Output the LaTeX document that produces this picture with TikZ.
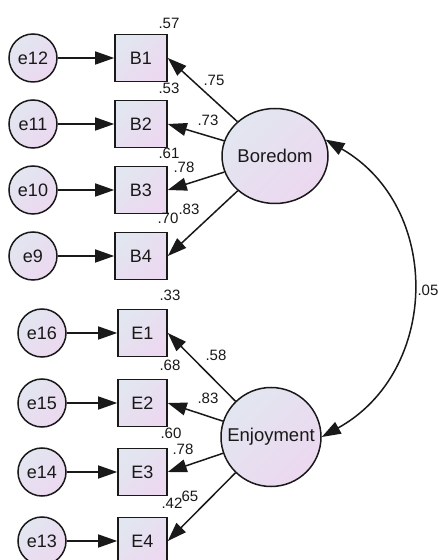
\documentclass[tikz,border=0pt]{standalone}
\usepackage{fontspec}
\setmainfont{Liberation Sans}
\usetikzlibrary{arrows.meta,shapes.geometric}
\definecolor{fillA}{RGB}{226,230,240}
\definecolor{fillB}{RGB}{236,216,240}
\definecolor{ink}{RGB}{25,25,25}
\tikzset{
  semfill/.style={top color=fillA, bottom color=fillB, shading angle=45},
  obsbox/.style={draw=ink, line width=1.6pt, rectangle, semfill, inner sep=0pt,
    minimum height=47pt, font=\fontsize{18}{18}\selectfont, text=ink},
  errc/.style={draw=ink, line width=1.5pt, circle, semfill, inner sep=0pt,
    minimum size=48pt, font=\fontsize{18}{18}\selectfont, text=ink},
  latent/.style={draw=ink, line width=1.5pt, ellipse, semfill, inner sep=0pt},
  latlabel/.style={font=\fontsize{18.5}{18.5}\selectfont, text=ink, inner sep=0pt},
  coef/.style={font=\fontsize{15}{15}\selectfont, text=ink, inner sep=0pt},
  arr/.style={draw=ink, line width=1.5pt, -{Triangle[length=19pt,width=13pt]}},
  darr/.style={draw=ink, line width=1.5pt, {Triangle[length=19pt,width=13pt]}-{Triangle[length=19pt,width=13pt]}},
}
\begin{document}
\begin{tikzpicture}[x=1pt,y=1pt]
\clip (0,0) rectangle (439,560);
\fill[white] (0,0) rectangle (439,560);
% Boredom block
\node[obsbox, minimum width=52pt] (B1) at (141,502) {B1};
\node[obsbox, minimum width=52pt] (B2) at (141,436) {B2};
\node[obsbox, minimum width=52pt] (B3) at (141,370) {B3};
\node[obsbox, minimum width=52pt] (B4) at (141,304) {B4};
\node[errc] (e12) at (33,502) {e12};
\node[errc] (e11) at (33,436) {e11};
\node[errc] (e10) at (33,370) {e10};
\node[errc] (e9) at (33,304) {e9};
\node[latent, minimum width=106pt, minimum height=95pt] (bor) at (275,404) {};
\node[latlabel] (borT) at (bor.center) {Boredom};
% Enjoyment block
\node[obsbox, minimum width=49pt] (E1) at (142.5,227) {E1};
\node[obsbox, minimum width=49pt] (E2) at (142.5,157) {E2};
\node[obsbox, minimum width=49pt] (E3) at (142.5,88) {E3};
\node[obsbox, minimum width=49pt] (E4) at (142.5,19) {E4};
\node[errc] (e16) at (42,227) {e16};
\node[errc] (e15) at (42,157) {e15};
\node[errc] (e14) at (42,88) {e14};
\node[errc] (e13) at (42,19) {e13};
\node[latent, minimum width=100pt, minimum height=99pt] (enj) at (271,123) {};
\node[latlabel] (enjT) at (enj.center) {Enjoyment};
% error arrows
\draw[arr] (e12) -- (B1);
\draw[arr] (e11) -- (B2);
\draw[arr] (e10) -- (B3);
\draw[arr] (e9) -- (B4);
\draw[arr] (e16) -- (E1);
\draw[arr] (e15) -- (E2);
\draw[arr] (e14) -- (E3);
\draw[arr] (e13) -- (E4);
% loadings
\draw[arr] (bor) -- (B1.east);
\draw[arr] (bor) -- (B2.east);
\draw[arr] (bor) -- (B3.east);
\draw[arr] (bor) -- (B4.east);
\draw[arr] (enj) -- (E1.east);
\draw[arr] (enj) -- (E2.east);
\draw[arr] (enj) -- (E3.east);
\draw[arr] (enj) -- (E4.east);
% covariance
\draw[darr] (bor.18) to[out=-30,in=29,looseness=1.16] (enj.east);
% coefficients
\node[coef] (r57) at (169,537) {.57};
\node[coef] (r53) at (169,472) {.53};
\node[coef] (r61) at (169,407) {.61};
\node[coef] (r70) at (168,342) {.70};
\node[coef] (l75) at (214,480) {.75};
\node[coef] (l73) at (208,440) {.73};
\node[coef] (l78) at (184,393) {.78};
\node[coef] (l83) at (189,351) {.83};
\node[coef] (r33) at (170,265) {.33};
\node[coef] (r68) at (170,195) {.68};
\node[coef] (r60) at (171,127) {.60};
\node[coef] (r42) at (172,57) {.42};
\node[coef] (m58) at (216,205) {.58};
\node[coef] (m83) at (208,162) {.83};
\node[coef] (m78) at (183,111) {.78};
\node[coef] (m65) at (190,64) {65};
\node[coef] (c05) at (428,270) {.05};
\end{tikzpicture}
\end{document}
